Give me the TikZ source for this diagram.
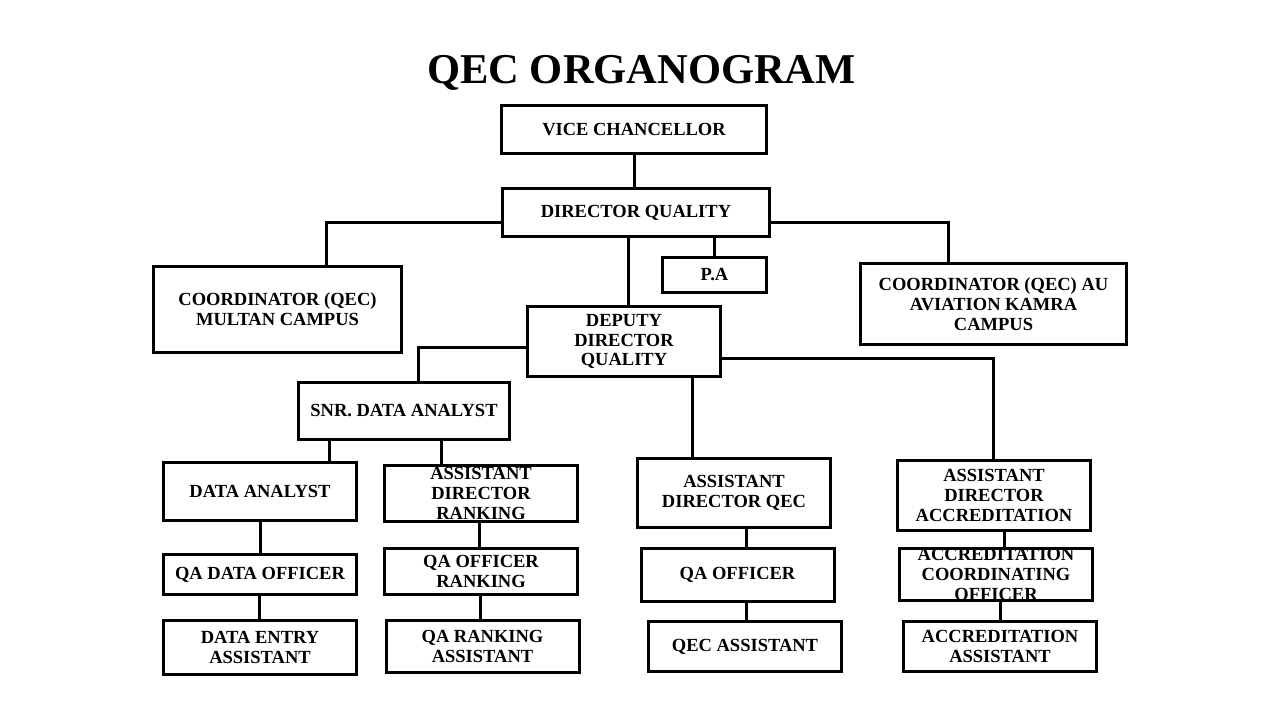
\documentclass[tikz,border=0pt]{standalone}
\usepackage{fontspec}
\setmainfont{Liberation Serif}
\tikzset{
  link/.style={line width=3pt,draw=black},
  box/.style={draw=black,line width=3pt,inner sep=0pt,align=center,
              font=\fontsize{18.5}{19.8}\selectfont\bfseries},
  unit/.style={box,minimum width=193pt},
}

\begin{document}
\begin{tikzpicture}[x=1pt,y=-1pt]
    \useasboundingbox (0,0) rectangle (1280,720);
    \node[anchor=base,font=\fontsize{42.5}{46}\selectfont\bfseries] (title)
      at (641.5,83) {QEC ORGANOGRAM};
    % top of the tree
    \node[box,minimum width=265pt,minimum height=48pt] (vc) at (634,129.5) {VICE CHANCELLOR};
    \node[box,minimum width=267pt,minimum height=48pt] (dq) at (636,212.5) {DIRECTOR QUALITY};
    \node[box,minimum width=248pt,minimum height=86pt] (multan) at (277.5,309.5)
      {COORDINATOR (QEC)\\MULTAN CAMPUS};
    \node[box,minimum width=104pt,minimum height=35pt] (pa) at (714.5,275) {P.A};
    \node[box,minimum width=266pt,minimum height=81pt] (kamra) at (993.5,304)
      {COORDINATOR (QEC) AU\\AVIATION KAMRA\\CAMPUS};
    \node[box,minimum width=193pt,minimum height=70pt] (deputy) at (624,341.5)
      {DEPUTY\\DIRECTOR\\QUALITY};
    % data and ranking
    \node[box,minimum width=211pt,minimum height=57pt] (snr) at (404,411) {SNR. DATA ANALYST};
    \node[unit,minimum height=58pt] (da) at (260,491.5) {DATA ANALYST};
    \node[unit,minimum height=40pt] (qado) at (260,574.5) {QA DATA OFFICER};
    \node[unit,minimum height=54pt] (dea) at (260,647.5) {DATA ENTRY\\ASSISTANT};
    \node[unit,minimum height=56pt] (adr) at (481,493.5) {ASSISTANT\\DIRECTOR\\RANKING};
    \node[unit,minimum height=46pt] (qaor) at (481,571.5) {QA OFFICER\\RANKING};
    \node[unit,minimum height=52pt] (qara) at (482.5,646.5) {QA RANKING\\ASSISTANT};
    % qec branch
    \node[unit,minimum height=69pt] (adq) at (734,493) {ASSISTANT\\DIRECTOR QEC};
    \node[unit,minimum height=53pt] (qao) at (737.5,575) {QA OFFICER};
    \node[unit,minimum height=50pt] (qeca) at (745,646.5) {QEC ASSISTANT};
    % accreditation branch
    \node[unit,minimum height=70pt] (ada) at (994,495.5) {ASSISTANT\\DIRECTOR\\ACCREDITATION};
    \node[unit,minimum height=52pt] (aco) at (996,574.5) {ACCREDITATION\\COORDINATING\\OFFICER};
    \node[unit,minimum height=50pt] (aca) at (1000,646.5) {ACCREDITATION\\ASSISTANT};

    \draw[link] (vc.south) -- (vc.south |- dq.north);
    \draw[link] ([yshift=-9.5pt]dq.west) -| ([xshift=48.5pt]multan.north);
    \draw[link] ([yshift=-9.5pt]dq.east) -| ([xshift=-45.5pt]kamra.north);
    \draw[link] (pa.north) -- (pa.north |- dq.south);
    \draw[link] ([xshift=4pt]deputy.north) -- ([xshift=4pt]deputy.north |- dq.south);
    \draw[link] ([yshift=-5.5pt]deputy.west) -| ([xshift=14pt]snr.north);
    \draw[link] ([yshift=-16.5pt]deputy.east) -| ([xshift=-1pt]ada.north);
    \draw[link] ([xshift=-42pt]adq.north) -- ([xshift=-42pt]adq.north |- deputy.south);
    \draw[link] ([xshift=69pt]da.north) -- ([xshift=69pt]da.north |- snr.south);
    \draw[link] ([xshift=-40pt]adr.north) -- ([xshift=-40pt]adr.north |- snr.south);
    \draw[link] (da.south) -- (qado.north);
    \draw[link] ([xshift=-1pt]qado.south) -- ([xshift=-1pt]dea.north);
    \draw[link] ([xshift=-1.5pt]adr.south) -- ([xshift=-1.5pt]adr.south |- qaor.north);
    \draw[link] ([xshift=-1pt]qaor.south) -- ([xshift=-1pt]qaor.south |- qara.north);
    \draw[link] ([xshift=12pt]adq.south) -- ([xshift=12pt]adq.south |- qao.north);
    \draw[link] ([xshift=8.5pt]qao.south) -- ([xshift=8.5pt]qao.south |- qeca.north);
    \draw[link] ([xshift=10pt]ada.south) -- ([xshift=10pt]ada.south |- aco.north);
    \draw[link] ([xshift=4pt]aco.south) -- ([xshift=4pt]aco.south |- aca.north);
\end{tikzpicture}
\end{document}
